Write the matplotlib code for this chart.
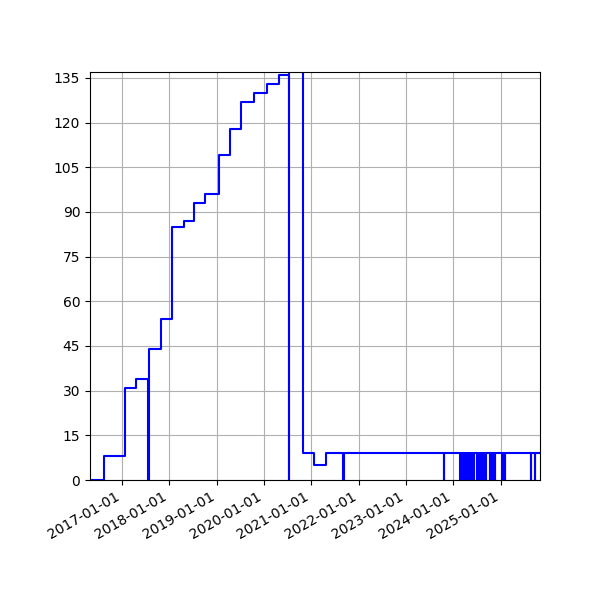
import matplotlib
matplotlib.use("Agg")
import matplotlib.pyplot as plt
import matplotlib.dates as mdates
import pandas as pd

step_dates = ["2016-04-27", "2016-08-10", "2017-01-24", "2017-04-20", "2017-07-23",
              "2017-10-26", "2018-01-18", "2018-01-24", "2018-04-12", "2018-04-20",
              "2018-07-10", "2018-10-03", "2019-01-18", "2019-04-16", "2019-07-10",
              "2019-10-13", "2020-01-21", "2020-04-28", "2020-07-15", "2020-10-27",
              "2021-01-21", "2021-04-26", "2025-11-02"]
step_values = [0, 8, 31, 34, 44, 54, 54, 85, 85, 87, 93, 96, 109, 118, 127, 130, 133,
               136, 140, 9, 5, 9, 9]
spike_dates = ["2017-07-22", "2020-07-14", "2021-09-04", "2023-10-23", "2024-02-24",
               "2024-03-11", "2024-04-04", "2024-04-11", "2024-04-27", "2024-05-05",
               "2024-05-20", "2024-06-05", "2024-07-06", "2024-07-14", "2024-07-22",
               "2024-07-30", "2024-08-07", "2024-08-22", "2024-09-07", "2024-10-08",
               "2024-10-16", "2024-10-24", "2024-11-08", "2024-11-16", "2025-01-16",
               "2025-02-01", "2025-08-23", "2025-09-23"]

# build series: base steps plus zero-spikes (drop to 0 for ~3 days)
base = pd.Series(step_values, index=pd.to_datetime(step_dates))
pts = dict(zip(base.index, base.values))
for d in pd.to_datetime(spike_dates):
    prev = base[base.index <= d].iloc[-1]
    pts[d] = 0
    after = d + pd.Timedelta(days=3)
    if after not in pts:
        pts[after] = base[base.index <= after].iloc[-1]
s = pd.Series(pts).sort_index()

fig = plt.figure(figsize=(6, 6), dpi=100)
ax = fig.add_axes([0.15, 0.2, 0.75, 0.68])
ax.plot(s.index, s.values, color="blue", lw=1.5, drawstyle="steps-post")
ax.set_ylim(0, 137)
ax.set_yticks(range(0, 136, 15))
ax.set_xlim(pd.Timestamp("2016-04-27"), pd.Timestamp("2025-11-02"))
ax.xaxis.set_major_locator(mdates.YearLocator())
ax.xaxis.set_major_formatter(mdates.DateFormatter("%Y-%m-%d"))
ax.grid(True, color="#b0b0b0")
ax.set_axisbelow(True)
for lbl in ax.get_xticklabels():
    lbl.set_rotation(30)
    lbl.set_ha("right")
fig.savefig("out.png")
